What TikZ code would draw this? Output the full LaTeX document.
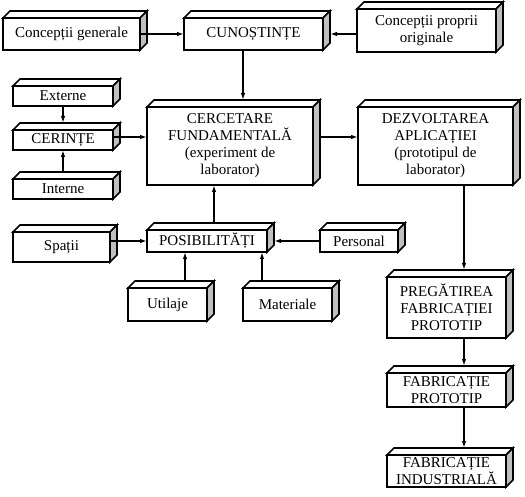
\documentclass[tikz,border=0pt]{standalone}
\usepackage{fontspec}
\setmainfont{Liberation Serif}
\usetikzlibrary{positioning, arrows.meta}
\tikzset{
    contur/.style={
        line width=1.6pt,
        line join=miter
    },
    bloc/.style={
        draw,
        contur,
        fill=white,
        outer sep=0pt,
        inner sep=2pt,
        align=center,
        font=\fontsize{15}{17}\selectfont
    },
    sageata/.style={
        -{Latex[length=7pt,width=4.5pt]},
        line width=1.6pt
    }
}
% adancimea fetelor (sus si dreapta)
\newcommand{\adanc}{7}
\newcommand{\fete}[1]{%
    \draw [contur, fill=white] (#1.north west) -- ++(\adanc,\adanc)
        -- ([shift={(\adanc,\adanc)}]#1.north east) -- (#1.north east) -- cycle;
    \draw [contur, fill=black!25] (#1.north east) -- ++(\adanc,\adanc)
        -- ([shift={(\adanc,\adanc)}]#1.south east) -- (#1.south east) -- cycle;
    \coordinate (#1-top) at ([shift={(\adanc,\adanc)}]#1.north);
    \coordinate (#1-side) at ([xshift=\adanc]#1.east);
}

\begin{document}
\begin{tikzpicture}[x=1pt, y=1pt, node distance=80pt, on grid]
    \useasboundingbox (0,0) rectangle (525,496);

    % Blocuri
    \node (cg) [bloc, minimum width=137pt, minimum height=32pt] at (71.5,462) {Concepții generale};
    \node (cun) [bloc, minimum width=139pt, minimum height=32pt] at (253.5,462) {CUNOȘTINȚE};
    \node (cp) [bloc, minimum width=139pt, minimum height=43pt] at (426.5,465.5) {Concepții proprii\\originale};

    \node (ext) [bloc, minimum width=100pt, minimum height=20pt] at (63,400) {Externe};
    \node (cer) [bloc, minimum width=100pt, minimum height=20pt, below=44pt of ext] {CERINȚE};
    \node (int) [bloc, minimum width=100pt, minimum height=20pt, below=49pt of cer] {Interne};

    \node (cf) [bloc, minimum width=166pt, minimum height=78pt] at (230,350)
        {CERCETARE\\FUNDAMENTALĂ\\(experiment de\\laborator)};
    \node (dez) [bloc, minimum width=155pt, minimum height=78pt] at (435.5,350)
        {DEZVOLTAREA\\APLICAȚIEI\\(prototipul de\\laborator)};

    \node (sp) [bloc, minimum width=97pt, minimum height=30pt] at (61.5,249) {Spații};
    \node (pos) [bloc, minimum width=120pt, minimum height=22pt] at (207,255) {POSIBILITĂȚI};
    \node (pers) [bloc, minimum width=78pt, minimum height=22pt] at (359,255) {Personal};
    \node (ut) [bloc, minimum width=79pt, minimum height=33pt] at (167.5,191.5) {Utilaje};
    \node (mat) [bloc, minimum width=89pt, minimum height=33pt] at (287.5,191.5) {Materiale};

    \node (pre) [bloc, minimum width=119pt, minimum height=61pt] at (446.5,188.5)
        {PREGĂTIREA\\FABRICAȚIEI\\PROTOTIP};
    \node (fp) [bloc, minimum width=119pt, minimum height=34pt, below=82.5pt of pre]
        {FABRICAȚIE\\PROTOTIP};
    \node (fi) [bloc, minimum width=119pt, minimum height=32pt, below=81pt of fp]
        {FABRICAȚIE\\INDUSTRIALĂ};

    % Fete 3D
    \foreach \n in {cg, cun, cp, ext, cer, int, cf, dez, sp, pos, pers, ut, mat, pre, fp, fi}
        \fete{\n};

    % Sageti
    \draw [sageata] (cg.east) -- (cun.west);
    \draw [sageata] (cp.west |- cun.east) -- (cun-side);
    \draw [sageata] ([xshift=-10.5pt]cun.south) -- ([xshift=-10.5pt]cun.south |- cf-top);

    \draw [sageata] (ext.south) -- (ext.south |- cer-top);
    \draw [sageata] (int.south |- int-top) -- (cer.south);
    \draw [sageata] ([yshift=3pt]cer.east) -- ([yshift=3pt]cer.east -| cf.west);

    \draw [sageata] ([yshift=9pt]cf-side) -- ([yshift=9pt]cf-side -| dez.west);
    \draw [sageata] ([xshift=17.5pt]pre.north |- dez.south) -- ([xshift=17.5pt]pre.north |- pre-top);
    \draw [sageata] ([xshift=17.5pt]pre.south) -- ([xshift=17.5pt]pre.south |- fp-top);
    \draw [sageata] ([xshift=17.5pt]fp.south) -- ([xshift=17.5pt]fp.south |- fi-top);

    \draw [sageata] (pos-top) -- (pos-top |- cf.south);
    \draw [sageata] (sp.east |- pos.west) -- (pos.west);
    \draw [sageata] (pers.west) -- (pers.west -| pos-side);
    \draw [sageata] ([xshift=-22pt]pos.south |- ut-top) -- ([xshift=-22pt]pos.south);
    \draw [sageata] ([xshift=55pt]pos.south |- mat-top) -- ([xshift=55pt]pos.south);
\end{tikzpicture}
\end{document}
